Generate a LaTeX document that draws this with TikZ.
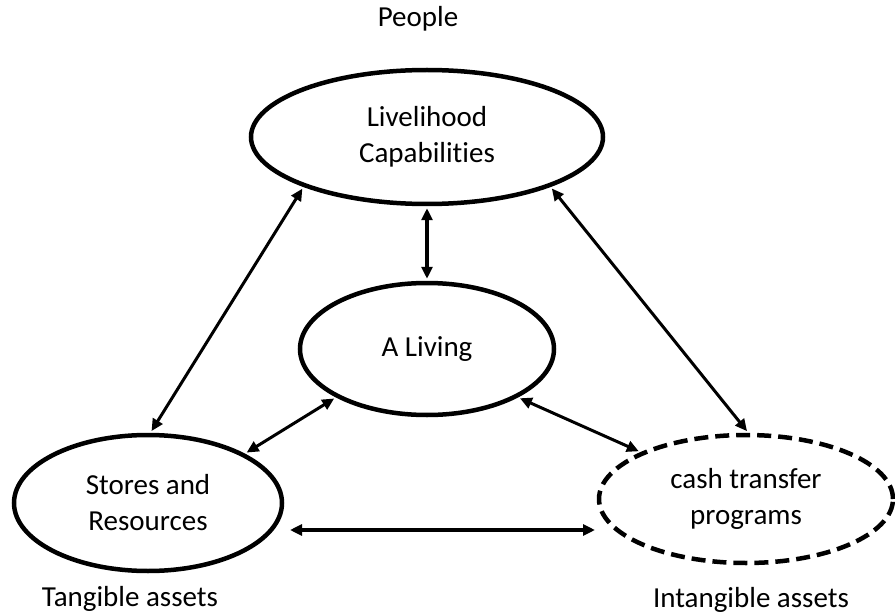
\documentclass[tikz,border=0pt]{standalone}
\usepackage{fontspec}
\setmainfont{Carlito}[Ligatures=NoCommon]
\usetikzlibrary{shapes.geometric,arrows.meta}
\tikzset{
  blob/.style={ellipse,draw,line width=4.5pt,align=center,inner sep=0pt,font=\fontsize{29}{36}\selectfont},
  tag/.style={anchor=base,font=\fontsize{29}{36}\selectfont},
  link/.style={{Triangle[length=12pt,width=11pt]}-{Triangle[length=12pt,width=11pt]},shorten <=2pt,shorten >=2pt}
}

\begin{document}
\begin{tikzpicture}[x=1pt,y=-1pt]
				%%%%% START %%%%%
				\def\wthin{3pt}
				\def\wthick{4pt}
				\useasboundingbox (0,0) rectangle (895,615);

				\node[tag] (people) at (418,27) {People};
				\node[tag] (tangible) at (130,606) {Tangible assets};
				\node[tag] (intangible) at (751,607) {Intangible assets};

				\node[blob,minimum width=352pt,minimum height=134pt] (caps) at (427,137) {Livelihood\\Capabilities};
				\node[blob,minimum width=254pt,minimum height=132pt] (living) at (427,349) {A Living};
				\node[blob,minimum width=268pt,minimum height=136pt] (stores) at (148,503) {Stores and\\Resources};
				\node[blob,dash pattern=on 14pt off 7pt,minimum width=294pt,minimum height=128pt] (cash) at (746,499) {cash transfer\\programs};

				\coordinate (hleft) at (288,530);
				\coordinate (hright) at (597,530);

				\draw[link,line width=\wthin] (caps.202) -- (stores.88);
				\draw[link,line width=\wthick] (caps.south) -- (living.north);
				\draw[link,line width=\wthin] (caps.338) -- (cash.88);
				\draw[link,line width=\wthin] (living.208) -- (stores.27);
				\draw[link,line width=\wthin] (living.332) -- (cash.156);
				\draw[link,line width=\wthick] (hleft) -- (hright);
				%%%%% START %%%%%
\end{tikzpicture}
\end{document}
